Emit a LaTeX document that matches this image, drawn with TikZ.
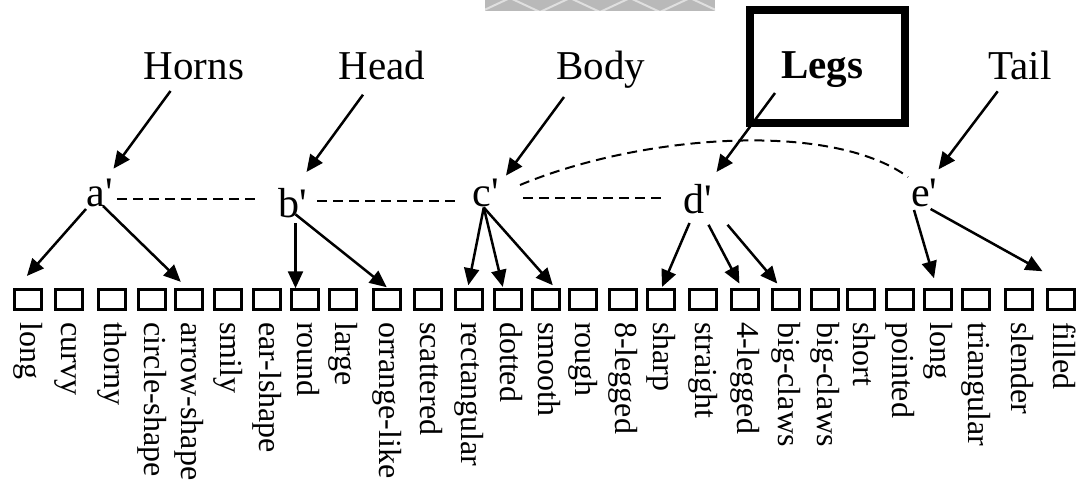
\documentclass[tikz,border=0pt]{standalone}
\usepackage{fontspec}
\setmainfont{Liberation Serif}[Ligatures=TeXOff]
\usetikzlibrary{arrows.meta,calc}
\begin{document}
\begin{tikzpicture}[x=1pt,y=-1pt,
  arr/.style={line width=2.5pt,-{Triangle[length=17pt,width=15pt]}},
  dline/.style={line width=2pt,dash pattern=on 10pt off 6pt},
  topl/.style={font=\fontsize{41}{48}\selectfont, anchor=base, inner sep=0pt},
  letter/.style={font=\fontsize{42}{50}\selectfont, anchor=base west, inner sep=0pt},
  cbox/.style={draw,line width=3pt,minimum width=27pt,minimum height=19.5pt,inner sep=0pt},
  blabel/.style={rotate=-90,anchor=west,inner sep=0pt,font=\fontsize{32}{37}\selectfont,text height=22pt,text depth=7pt}
]
\useasboundingbox (0,0) rectangle (1078,481);
% image fragment at top
\begin{scope}
\clip (485,0) rectangle (715,11);
\fill[gray!55] (485,0) rectangle (715,11);
\foreach \s in {480,540,600,660} {
  \draw[gray!25,line width=2pt] (\s,12) -- (\s+30,-2) -- (\s+60,12);
}
\end{scope}
% top labels
\node[topl] (horns) at (194,80) {Horns};
\node[topl] (head) at (382,80) {Head};
\node[topl] (body) at (601,80) {Body};
\node[topl,font=\fontsize{41}{48}\selectfont\bfseries] (legs) at (822,79) {Legs};
\node[topl] (tail) at (1020,80) {Tail};
\node[draw,line width=8pt,minimum width=155pt,minimum height=113pt,inner sep=0pt] (legsbox) at (827.5,66.5) {};
% letters
\node[letter] (pa) at (86.5,206) {a'};
\node[letter] (pb) at (278,218) {b'};
\node[letter] (pc) at (472.5,206.6) {c'};
\node[letter] (pd) at (683.5,213) {d'};
\node[letter] (pe) at (911,206) {e'};
% boxes and labels
\foreach \i/\x/\t in {1/27.7/long,2/69/curvy,3/111.7/thorny,4/151.7/circle-shape,5/189.2/arrow-shape,
  6/227.5/smily,7/266.7/ear-lshape,8/305/round,9/343.3/large,10/386.7/orrange-like,
  11/427.5/scattered,12/469.2/rectangular,13/507.5/dotted,14/545.8/smooth,15/583.3/rough,
  16/622.5/8-legged,17/661/sharp,18/702.5/straight,19/745/4-legged,20/785.8/big-claws,
  21/825/big-claws,22/861/short,23/900/pointed,24/938/long,25/976/triangular,
  26/1019/slender,27/1061/filled} {
  \node[cbox] (b\i) at (\x,299.5) {};
  \node[blabel] (l\i) at (\x,322) {\t};
}
% dashed relations
\draw[dline] ($(pa.base west)+(30.5,-7)$) -- ($(pb.base west)+(-18,-19)$);
\draw[dline] ($(pb.base west)+(39,-17)$) -- ($(pc.base west)+(-11.5,-5.6)$);
\draw[dline] ($(pc.base west)+(50.5,-8.6)$) -- ($(pd.base west)+(-19.5,-15)$);
\draw[dline] ($(pc.base west)+(47.5,-21.6)$) .. controls (640,135) and (830,120) .. ($(pe.base west)+(-3,-29)$);
% top arrows
\draw[arr] ($(horns.base)+(-23.5,11)$) -- ($(pa.base west)+(27,-37.3)$);
\draw[arr] ($(head.base)+(-19,14.7)$) -- ($(pb.base west)+(28.5,-46)$);
\draw[arr] ($(body.base)+(-37,17)$) -- ($(pc.base west)+(33.5,-31)$);
\draw[arr] ($(legs.base)+(-47,14)$) -- ($(pd.base west)+(33,-41)$);
\draw[arr] ($(tail.base)+(-22.3,11.3)$) -- ($(pe.base west)+(27.5,-36.6)$);
% lower arrows
\draw[arr] ($(pa.base west)+(-0.5,3)$) -- ($(b1.north)+(-0.8,-12.3)$);
\draw[arr] ($(pa.base west)+(16.5,0)$) -- ($(b5.north)+(-8.4,-6.4)$);
\draw[arr] ($(pb.base west)+(17.5,5)$) -- ($(b8.north)+(-9.5,0)$);
\draw[arr] ($(pb.base west)+(17.5,-3.6)$) -- ($(b10.north)+(0,-1)$);
\draw[arr] ($(pc.base west)+(11.3,0.9)$) -- ($(b12.north)+(-0.9,-3)$);
\draw[arr] ($(pc.base west)+(11.3,0.9)$) -- ($(b13.north)+(-4.7,-1.3)$);
\draw[arr] ($(pc.base west)+(11.3,0.9)$) -- ($(b14.north)+(7,-3)$);
\draw[arr] ($(pd.base west)+(6,10)$) -- ($(b17.north)+(1,-1.3)$);
\draw[arr] ($(pd.base west)+(25,11.8)$) -- ($(b19.north)+(-5.6,-4.7)$);
\draw[arr] ($(pd.base west)+(44,11.8)$) -- ($(b20.north)+(-8.5,-4.7)$);
\draw[arr] ($(pe.base west)+(3,4)$) -- ($(b24.north)+(-4,-10)$);
\draw[arr] ($(pe.base west)+(19.6,3)$) -- ($(b26.north)+(23.5,-17)$);
\end{tikzpicture}
\end{document}
